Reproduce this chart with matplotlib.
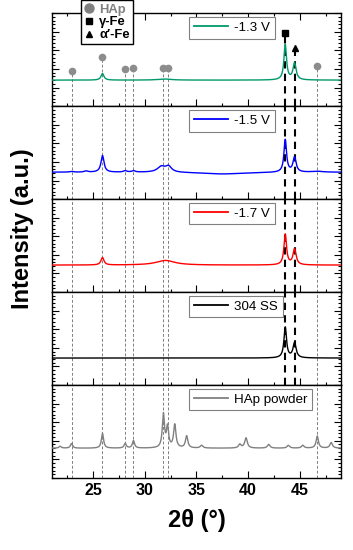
import numpy as np
import matplotlib
matplotlib.use("Agg")
import matplotlib.pyplot as plt
import matplotlib.transforms as mtransforms
from matplotlib.lines import Line2D
from matplotlib.ticker import MultipleLocator

plt.rcParams['font.family'] = ['Liberation Sans', 'DejaVu Sans']

# 2-theta grid of the scans
two_theta = np.linspace(21, 49, 2801)

labels = ['-1.3 V', '-1.5 V', '-1.7 V', '304 SS', 'HAp powder']
colors = ['#00996b', '#0000ff', '#ff0000', '#000000', '#808080']
baselines = [0.28, 0.29, 0.29, 0.29, 0.32]

# peaks: position (deg), height (panel fraction), fwhm (deg)
pos_13 = [43.6, 44.5, 25.9, 31.9]
hgt_13 = [0.38, 0.18, 0.07, 0.012]
fwhm_13 = [0.3, 0.36, 0.35, 1.5]

pos_15 = [43.6, 44.5, 25.9, 31.6, 32.3, 28.1, 28.9, 24.3, 22.9, 46.7, 37.5]
hgt_15 = [0.35, 0.16, 0.18, 0.06, 0.06, 0.015, 0.015, 0.012, 0.008, 0.01, -0.02]
fwhm_15 = [0.3, 0.36, 0.35, 0.9, 0.7, 0.4, 0.4, 0.4, 0.4, 1.2, 5.0]

pos_17 = [43.6, 44.5, 25.9, 32.0]
hgt_17 = [0.33, 0.17, 0.08, 0.05]
fwhm_17 = [0.3, 0.36, 0.35, 2.2]

pos_ss = [43.6, 44.5]
hgt_ss = [0.33, 0.16]
fwhm_ss = [0.3, 0.36]

pos_hap = [21.8, 22.9, 25.9, 28.1, 28.9, 31.8, 32.2, 32.9, 34.05, 35.5,
           39.2, 39.8, 42.0, 43.9, 45.3, 46.7, 48.05]
hgt_hap = [0.02, 0.05, 0.16, 0.05, 0.08, 0.36, 0.22, 0.25, 0.13, 0.03,
           0.04, 0.11, 0.04, 0.03, 0.03, 0.13, 0.06]
fwhm_hap = [0.28, 0.25, 0.25, 0.25, 0.25, 0.25, 0.25, 0.27, 0.27, 0.3,
            0.3, 0.3, 0.3, 0.3, 0.3, 0.27, 0.3]

peak_sets = [(pos_13, hgt_13, fwhm_13), (pos_15, hgt_15, fwhm_15),
             (pos_17, hgt_17, fwhm_17), (pos_ss, hgt_ss, fwhm_ss),
             (pos_hap, hgt_hap, fwhm_hap)]

# reference lines
hap_lines = [22.9, 25.9, 28.1, 28.9, 31.8, 32.2, 46.7]
hap_marks = [0.38, 0.53, 0.40, 0.41, 0.41, 0.41, 0.43]
fe_lines = [43.6, 44.5]
fe_marks = [0.79, 0.63]
fe_symbols = ['s', '^']


def pattern(base, pos, hgt, fwhm):
    y = np.full_like(two_theta, base)
    for p, h, w in zip(pos, hgt, fwhm):
        y += h / (1 + ((two_theta - p) / (w / 2)) ** 2)
    return y


def panel_legend(ax, i):
    leg = ax.legend([Line2D([], [], color=colors[i], lw=1.3)], [labels[i]],
                    loc='upper left', bbox_to_anchor=(0.474, 0.96),
                    borderaxespad=0, fancybox=False, edgecolor='#808080',
                    fontsize=9.6, handlelength=2.6, borderpad=0.35,
                    handletextpad=0.45, framealpha=1)
    leg.get_frame().set_linewidth(0.8)
    leg.set_zorder(5)
    return leg


fig, axes = plt.subplots(5, 1, sharex=True, figsize=(3.53, 5.5), dpi=100,
                         gridspec_kw={'hspace': 0})
fig.subplots_adjust(left=0.147, right=0.966, bottom=0.131, top=0.976)

for i, ax in enumerate(axes):
    pos, hgt, fwhm = peak_sets[i]
    ax.plot(two_theta, pattern(baselines[i], pos, hgt, fwhm),
            color=colors[i], lw=1.0, zorder=3)
    ax.set_xlim(21, 49)
    ax.set_ylim(0, 1)

    top_end = hap_marks if i == 0 else [1] * len(hap_lines)
    for x, ym in zip(hap_lines, top_end):
        ax.axvline(x, ymax=ym, color='#808080', lw=0.7, dashes=(3, 2), zorder=1)
    if i < 4:
        fe_end = fe_marks if i == 0 else [1, 1]
        for x, ym in zip(fe_lines, fe_end):
            ax.axvline(x, ymax=ym, color='black', lw=1.5, dashes=(3.5, 2.5), zorder=2)

    ax.xaxis.set_major_locator(MultipleLocator(5))
    ax.xaxis.set_minor_locator(MultipleLocator(2.5))
    ax.yaxis.set_major_locator(MultipleLocator(0.2))
    ax.yaxis.set_minor_locator(MultipleLocator(0.04))
    ax.tick_params(which='both', direction='in', left=True, right=True,
                   top=(i == 0), labelleft=False, width=0.8)
    ax.tick_params(which='major', length=5)
    ax.tick_params(which='minor', length=2.5)
    ax.tick_params(axis='x', labelsize=11.5)
    for s in ax.spines.values():
        s.set_linewidth(1.0)

    if i > 0:
        panel_legend(ax, i)

ax0 = axes[0]
trans = mtransforms.blended_transform_factory(ax0.transData, ax0.transAxes)
ax0.plot(hap_lines, hap_marks, 'o', color='#8c8c8c', ms=4.5,
         transform=trans, clip_on=False, zorder=4)
for x, ym, m in zip(fe_lines, fe_marks, fe_symbols):
    ax0.plot([x], [ym], m, color='black', ms=5, transform=trans,
             clip_on=False, zorder=4)

sym_handles = [Line2D([], [], marker='o', color='#808080', ls='none', ms=6.5),
               Line2D([], [], marker='s', color='black', ls='none', ms=5),
               Line2D([], [], marker='^', color='black', ls='none', ms=5)]
sym_leg = ax0.legend(sym_handles, ['HAp', 'γ-Fe', 'α\u2032-Fe'],
                     loc='upper left', bbox_to_anchor=(0.10, 1.14),
                     borderaxespad=0, fancybox=False, edgecolor='black',
                     labelcolor=['#808080', 'black', 'black'],
                     prop={'weight': 'bold', 'size': 9.4},
                     handlelength=0.8, handletextpad=0.35, labelspacing=0.05,
                     borderpad=0.25, framealpha=1)
sym_leg.get_frame().set_linewidth(1.0)
ax0.add_artist(sym_leg)
panel_legend(ax0, 0)

for lab in axes[-1].get_xticklabels():
    lab.set_fontweight('bold')
axes[-1].set_xlabel('2θ (°)', fontsize=17, fontweight='bold', labelpad=8)
fig.text(0.065, 0.585, 'Intensity (a.u.)', rotation=90, fontsize=17,
         fontweight='bold', ha='center', va='center')

fig.savefig('out.png', dpi=100)
